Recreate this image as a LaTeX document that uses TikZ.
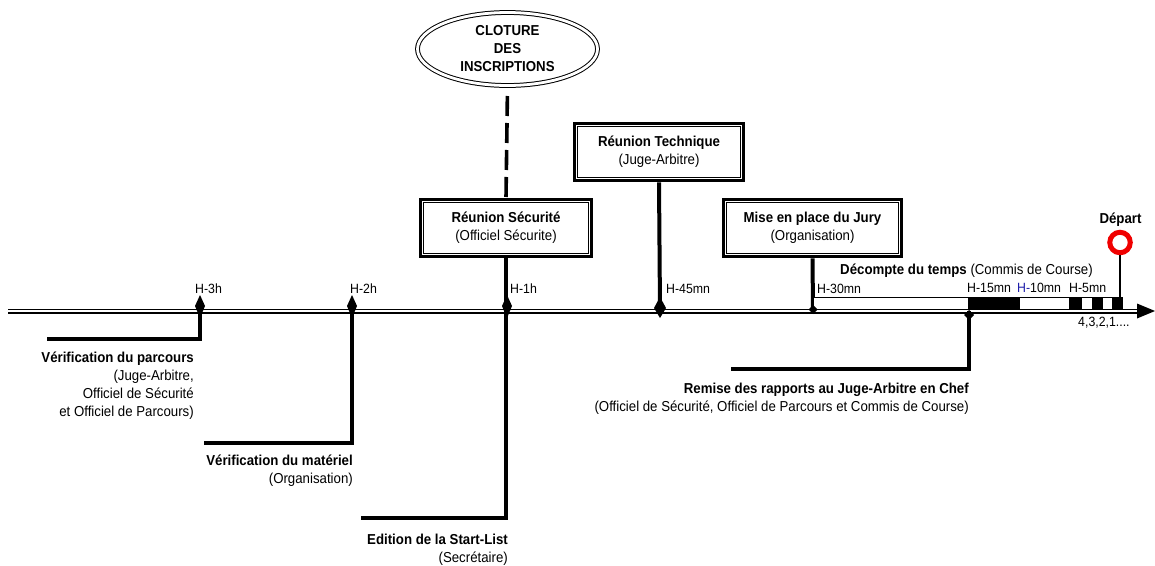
\documentclass[tikz,border=0pt]{standalone}
\usepackage{fontspec}
\setmainfont{Liberation Sans}[FakeStretch=0.92]
\usetikzlibrary{shapes.geometric}
\definecolor{hblue}{RGB}{30,30,170}
\definecolor{depred}{RGB}{240,0,0}
\newcommand\fstrut{\rule{0pt}{13pt}}
\begin{document}
\begin{tikzpicture}[x=1pt,y=-1pt,
  txt/.style={inner sep=0pt, font=\fontsize{14.4}{18}\selectfont},
  lbl/.style={inner sep=0pt, anchor=base west, font=\fontsize{13.4}{15}\selectfont},
  desc/.style={txt, align=right, anchor=north east},
  boxnode/.style={txt, draw, line width=3.6pt, align=center, minimum height=57pt},
  heavy/.style={line width=4pt},
  dashline/.style={line width=3.6pt, dash pattern=on 20pt off 7pt},
  tline/.style={double, double distance=2.4pt, line width=1.3pt},
  innerframe/.style={line width=0.9pt}
]
\useasboundingbox (0,0) rectangle (1155,565);

% timeline
\coordinate (tl0) at (8,311);
\coordinate (tl1) at (1140,311);
\draw[tline] (tl0) -- (tl1);
\fill (1137,303.5) -- (1155,311) -- (1137,318.5) -- cycle;

% marker coordinates
\coordinate (m3) at (200,311);
\coordinate (m2) at (352,311);
\coordinate (m1) at (507,311);
\coordinate (m45) at (660,311);
\coordinate (m30) at (813,311);
\coordinate (m15) at (969,311);

% end points of leader lines
\coordinate (e3) at (47,339);
\coordinate (e2) at (204,443);
\coordinate (e1) at (361,518);
\coordinate (e15) at (731,369);

% ellipse
\node[txt, ellipse, draw, double, double distance=2.8pt, line width=1pt,
      minimum width=180pt, minimum height=73pt, align=center] (clot) at (507.5,49)
      {\bfseries CLOTURE\\\bfseries DES\\\bfseries INSCRIPTIONS};

% boxes
\node[boxnode, minimum width=171pt] (secu) at (506,228)
  {\textbf{Réunion Sécurité}\\(Officiel Sécurite)};
\draw[innerframe] ([shift={(4.6,4.6)}]secu.north west) rectangle ([shift={(-4.6,-4.6)}]secu.south east);
\node[boxnode, minimum width=169pt] (tech) at (659,152)
  {\textbf{Réunion Technique}\\(Juge-Arbitre)};
\draw[innerframe] ([shift={(4.6,4.6)}]tech.north west) rectangle ([shift={(-4.6,-4.6)}]tech.south east);
\node[boxnode, minimum width=178pt] (jury) at (812.5,228)
  {\textbf{Mise en place du Jury}\\(Organisation)};
\draw[innerframe] ([shift={(4.6,4.6)}]jury.north west) rectangle ([shift={(-4.6,-4.6)}]jury.south east);

% connectors
\draw[dashline, shorten <=10pt] (clot.south) -- (secu.north);
\draw[heavy] (m3) |- (e3);
\draw[heavy] (m2) |- (e2);
\draw[heavy] (secu.south) |- (e1);
\draw[heavy] (tech.south) -- (m45);
\draw[heavy] (jury.south) -- (m30);
\draw[heavy] (m15) |- (e15);

% countdown bar
\draw[line width=0.9pt, fill=white] (813,297) rectangle (1122,309.5);
\fill (968,297) rectangle (1020,309.5);
\fill (1069,297) rectangle (1082,309.5);
\fill (1092,297) rectangle (1103,309.5);
\fill (1112,297) rectangle (1122,309.5);

% depart
\node[circle, draw=depred, line width=5pt, minimum size=20.5pt, inner sep=0pt] (dep) at (1120,242.5) {};
\coordinate (dbar) at (1120,297);
\draw[line width=2.4pt] (dep.south) -- (dbar);
\node[txt, anchor=base] (deptxt) at (1120.5,223) {\textbf{Départ}};

% markers
\fill (m3) ++(0,-16) -- ++(5,11) -- ++(-5,12) -- ++(-5,-12) -- cycle;
\fill (m2) ++(0,-16) -- ++(5,11) -- ++(-5,12) -- ++(-5,-12) -- cycle;
\fill (m1) ++(0,-16) -- ++(5,11) -- ++(-5,12) -- ++(-5,-12) -- cycle;
\fill (m45) ++(0,-14) -- ++(6,11) -- ++(-6,10) -- ++(-6,-10) -- cycle;
\fill (m30) ++(0,-6) -- ++(4.5,4.5) -- ++(-4.5,4.5) -- ++(-4.5,-4.5) -- cycle;
\fill (m15) ++(0,-1) -- ++(5,5) -- ++(-5,5) -- ++(-5,-5) -- cycle;

% time labels
\node[lbl] (l3) at (195,293) {H-3h};
\node[lbl] (l2) at (350,293) {H-2h};
\node[lbl] (l1) at (510,293) {H-1h};
\node[lbl] (l45) at (666,293) {H-45mn};
\node[lbl] (l30) at (817,293) {H-30mn};
\node[lbl] (l15) at (967,292) {H-15mn};
\node[lbl] (l10) at (1017,292) {\textcolor{hblue}{H-}10mn};
\node[lbl] (l5) at (1069,292) {H-5mn};
\node[lbl] (cnt) at (1078,326) {4,3,2,1....};
\node[txt, anchor=base west] (decompte) at (840,274) {\textbf{Décompte du temps} (Commis de Course)};

% descriptions
\node[desc] (d3) at (194,349) {\fstrut\textbf{Vérification du parcours}\\(Juge-Arbitre,\\Officiel de Sécurité\\et Officiel de Parcours)};
\node[desc] (d2) at (353,452) {\fstrut\textbf{Vérification du matériel}\\(Organisation)};
\node[desc] (d1) at (508,531) {\fstrut\textbf{Edition de la Start-List}\\(Secrétaire)};
\node[desc] (d15) at (969,380) {\fstrut\textbf{Remise des rapports au Juge-Arbitre en Chef}\\(Officiel de Sécurité, Officiel de Parcours et Commis de Course)};
\end{tikzpicture}
\end{document}
